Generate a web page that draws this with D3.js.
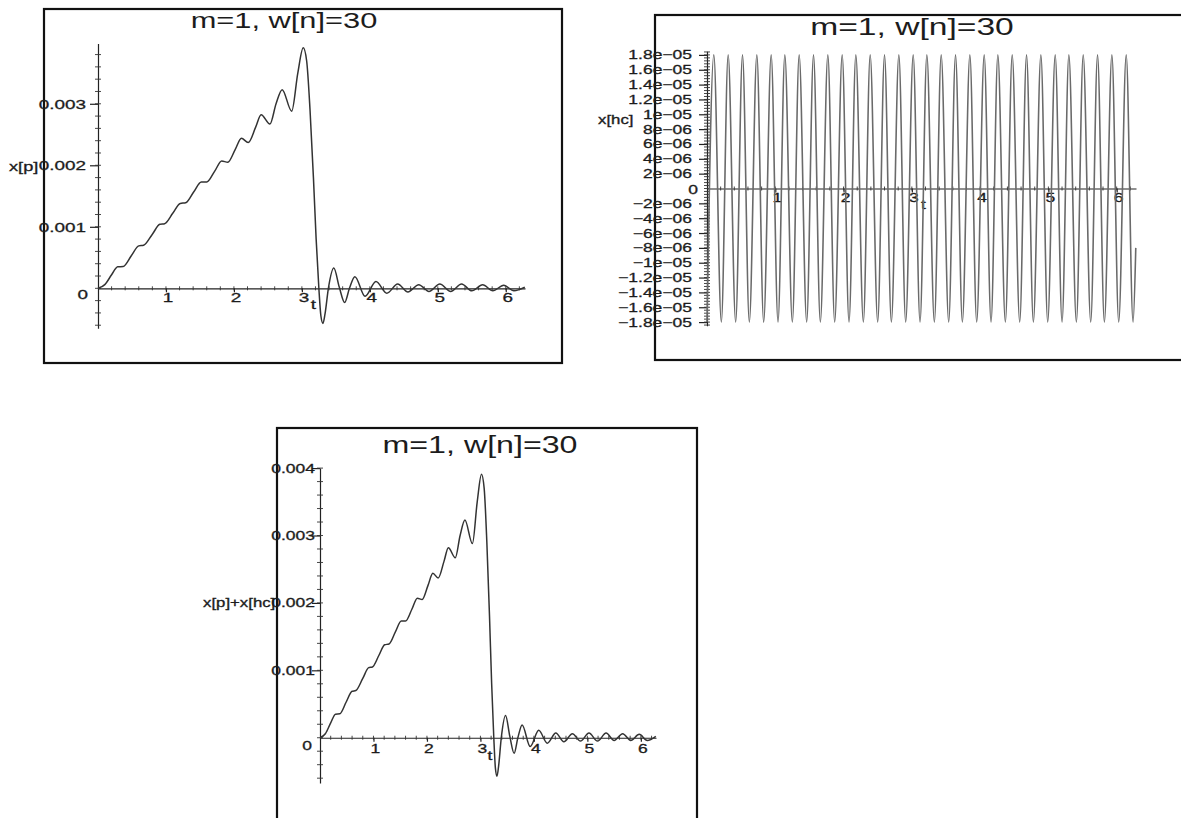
<!DOCTYPE html>
<html>
<head>
<meta charset="utf-8">
<script src="https://cdn.jsdelivr.net/npm/d3@7"></script>
<style>
  html, body { margin: 0; background: #fff; }
  svg { display: block; font-family: "Liberation Sans", Arial, sans-serif; }
</style>
</head>
<body>
<svg id="chart" width="1181" height="818"></svg>
<script>
// ---- data ----
const title = 'm=1, w[n]=30';

// x[p](t): ramp with ripples up to t≈3, then a decaying ringing (same curve in the bottom plot)
const tP = [0, 0.1, 0.2, 0.29, 0.37, 0.49, 0.6, 0.67, 0.8, 0.91, 0.98, 1.1, 1.21, 1.29, 1.41, 1.52, 1.6,
  1.72, 1.82, 1.91, 2.02, 2.11, 2.21, 2.32, 2.4, 2.53, 2.62, 2.71, 2.85, 2.94, 3.02, 3.07, 3.12, 3.17,
  3.21, 3.25, 3.28, 3.31, 3.34, 3.39, 3.47, 3.55, 3.63, 3.7, 3.78, 3.93, 4.09, 4.25, 4.41, 4.56, 4.72,
  4.87, 5.03, 5.19, 5.35, 5.5, 5.66, 5.81, 5.97, 6.12, 6.28];
const xP = [0, 0.00006, 0.00022, 0.00035, 0.000355, 0.00053, 0.00069, 0.0007, 0.00088, 0.00104, 0.00105,
  0.00122, 0.00138, 0.00139, 0.00157, 0.00173, 0.00173, 0.00191, 0.00207, 0.00205, 0.00226, 0.00244,
  0.00237, 0.00262, 0.00282, 0.00267, 0.003, 0.00323, 0.00288, 0.0035, 0.00391, 0.0037, 0.0029, 0.0018,
  0.0008, 0, -0.00045, -0.00057, -0.00042, 0, 0.00033, 0.00002, -0.00023, 0, 0.00019, -0.00013, 0.00011,
  -0.00008, 0.00007, -0.00006, 0.00006, -0.00005, 0.00007, -0.00005, 0.00007, -0.00004, 0.00006,
  -0.00004, 0.00005, -0.00004, 0.00002];

// x[hc](t): turning points of the fast oscillation (troughs / peaks), plus the end point
const tHC = [0, 0.10, 0.21, 0.31, 0.42, 0.52, 0.62, 0.73, 0.83, 0.94, 1.04, 1.14, 1.25, 1.35, 1.46, 1.56,
  1.66, 1.77, 1.87, 1.98, 2.08, 2.18, 2.29, 2.39, 2.50, 2.60, 2.70, 2.81, 2.91, 3.02, 3.12, 3.22, 3.33,
  3.43, 3.54, 3.64, 3.74, 3.85, 3.95, 4.06, 4.16, 4.26, 4.37, 4.47, 4.58, 4.68, 4.78, 4.89, 4.99, 5.10,
  5.20, 5.30, 5.41, 5.51, 5.62, 5.72, 5.82, 5.93, 6.03, 6.14, 6.24, 6.28];
const xHC = [-1.8e-5, 1.8e-5, -1.8e-5, 1.8e-5, -1.8e-5, 1.8e-5, -1.8e-5, 1.8e-5, -1.8e-5, 1.8e-5,
  -1.8e-5, 1.8e-5, -1.8e-5, 1.8e-5, -1.8e-5, 1.8e-5, -1.8e-5, 1.8e-5, -1.8e-5, 1.8e-5,
  -1.8e-5, 1.8e-5, -1.8e-5, 1.8e-5, -1.8e-5, 1.8e-5, -1.8e-5, 1.8e-5, -1.8e-5, 1.8e-5,
  -1.8e-5, 1.8e-5, -1.8e-5, 1.8e-5, -1.8e-5, 1.8e-5, -1.8e-5, 1.8e-5, -1.8e-5, 1.8e-5,
  -1.8e-5, 1.8e-5, -1.8e-5, 1.8e-5, -1.8e-5, 1.8e-5, -1.8e-5, 1.8e-5, -1.8e-5, 1.8e-5,
  -1.8e-5, 1.8e-5, -1.8e-5, 1.8e-5, -1.8e-5, 1.8e-5, -1.8e-5, 1.8e-5, -1.8e-5, 1.8e-5,
  -1.8e-5, -8e-6];

const tTicks = [1, 2, 3, 4, 5, 6];
const pTicks = [0.001, 0.002, 0.003];
const pLabels = ['0.001', '0.002', '0.003'];
const sumTicks = [0.001, 0.002, 0.003, 0.004];
const sumLabels = ['0.001', '0.002', '0.003', '0.004'];
const hcTicks = [1.8e-5, 1.6e-5, 1.4e-5, 1.2e-5, 1e-5, 8e-6, 6e-6, 4e-6, 2e-6,
  -2e-6, -4e-6, -6e-6, -8e-6, -1e-5, -1.2e-5, -1.4e-5, -1.6e-5, -1.8e-5];
const hcLabels = ['1.8e\u221205', '1.6e\u221205', '1.4e\u221205', '1.2e\u221205', '1e\u221205',
  '8e\u221206', '6e\u221206', '4e\u221206', '2e\u221206', '\u22122e\u221206', '\u22124e\u221206',
  '\u22126e\u221206', '\u22128e\u221206', '\u22121e\u221205', '\u22121.2e\u221205', '\u22121.4e\u221205',
  '\u22121.6e\u221205', '\u22121.8e\u221205'];

// ---- drawing ----
const SX = 1.4;   // the scan is stretched sideways, so is the lettering
const INK = '#1c1c1c';
const svg = d3.select('#chart');

function label(g, x, y, s, size, anchor = 'middle') {
  g.append('text').attr('transform', `translate(${x},${y}) scale(${SX},1)`)
    .attr('text-anchor', anchor).attr('dy', '0.36em')
    .attr('font-size', size).attr('fill', INK)
    .attr('stroke', INK).attr('stroke-width', 0.3).text(s);
}

function panel(o) {
  const g = svg.append('g');
  const x = d3.scaleLinear().domain([0, 2 * Math.PI]).range(o.xr);
  const y = d3.scaleLinear().domain(o.yd).range(o.yr);

  g.append('rect').attr('x', o.box[0]).attr('y', o.box[1])
    .attr('width', o.box[2] - o.box[0]).attr('height', o.box[3] - o.box[1])
    .attr('fill', 'none').attr('stroke', '#111').attr('stroke-width', 2.2);

  g.append('text').attr('transform', `translate(${o.titleAt[0]},${o.titleAt[1]}) scale(${SX},1)`)
    .attr('text-anchor', 'middle').attr('font-size', o.titleSize).attr('fill', INK).text(title);

  // axes through the origin
  const ya = g.append('g').attr('transform', `translate(${x(0)},0)`)
    .call(d3.axisLeft(y).tickValues(o.yTicks).tickSize(8).tickSizeOuter(0).tickFormat(''));
  const xa = g.append('g').attr('transform', `translate(0,${y(0)})`)
    .call(d3.axisBottom(x).tickValues(tTicks).tickSize(4).tickSizeOuter(0).tickFormat(''));
  [ya, xa].forEach(a => a.call(s => s.selectAll('path, line').attr('stroke', '#222').attr('stroke-width', 1.2)));

  // minor ticks
  g.append('g').selectAll('line').data(o.yMinor).join('line')
    .attr('x1', x(0) - 3).attr('x2', x(0) + 3).attr('y1', d => y(d)).attr('y2', d => y(d))
    .attr('stroke', '#333').attr('stroke-width', 0.9);
  g.append('g').selectAll('line').data(d3.range(0.2, 6.21, 0.2)).join('line')
    .attr('y1', y(0) - 2).attr('y2', y(0) + 2).attr('x1', d => x(d)).attr('x2', d => x(d))
    .attr('stroke', '#333').attr('stroke-width', 0.9);

  // tick labels
  o.yTicks.forEach((v, i) => label(g, o.yLabelRight, y(v), o.yLabels[i], o.tickSize, 'end'));
  label(g, o.zeroAt[0], o.zeroAt[1], '0', o.tickSize, 'end');
  tTicks.forEach(v => label(g, x(v) + 2, y(0) + o.xLabelDy, String(v), o.tickSize));
  label(g, x(Math.PI) + 2, y(0) + o.xLabelDy + 7, 't', o.tickSize);
  label(g, o.yNameAt[0], o.yNameAt[1], o.yName, o.tickSize - 0.5, 'start');

  const line = d3.line().x(d => x(d[0])).y(d => y(d[1])).curve(d3.curveMonotoneX);
  g.append('path').datum(d3.zip(o.t, o.v)).attr('d', line)
    .attr('fill', 'none').attr('stroke', o.color).attr('stroke-width', o.lw)
    .attr('stroke-linejoin', 'round');
}

// top left: x[p]
panel({
  box: [44, 9, 562, 363], titleAt: [284, 28], titleSize: 22,
  xr: [98, 525], yd: [-0.00065, 0.00398], yr: [328.3, 43.5],
  yTicks: pTicks, yLabels: pLabels, yMinor: d3.range(-0.0006, 0.00399, 0.0002),
  yLabelRight: 86, zeroAt: [88, 294], xLabelDy: 9, tickSize: 13.5,
  yName: 'x[p]', yNameAt: [9, 166],
  t: tP, v: xP, color: '#333', lw: 1.5
});

// top right: x[hc]
panel({
  box: [655, 15, 1195, 360], titleAt: [912, 35], titleSize: 24,
  xr: [707, 1136], yd: [-1.85e-5, 1.85e-5], yr: [325.8, 51.2],
  yTicks: hcTicks, yLabels: hcLabels, yMinor: d3.range(-1.84e-5, 1.841e-5, 4e-7),
  yLabelRight: 692, zeroAt: [698, 189], xLabelDy: 9, tickSize: 12.5,
  yName: 'x[hc]', yNameAt: [598, 120],
  t: tHC, v: xHC, color: '#6a6a6a', lw: 1.6
});

// bottom: x[p] + x[hc]
panel({
  box: [277, 428, 697, 840], titleAt: [480, 453], titleSize: 23,
  xr: [320, 656], yd: [-0.00067, 0.004], yr: [782.9, 468.1],
  yTicks: sumTicks, yLabels: sumLabels, yMinor: d3.range(-0.0006, 0.00401, 0.0002),
  yLabelRight: 315, zeroAt: [312, 745], xLabelDy: 11, tickSize: 12.5,
  yName: 'x[p]+x[hc]', yNameAt: [203, 603],
  t: tP, v: xP, color: '#333', lw: 1.5
});
</script>
</body>
</html>
